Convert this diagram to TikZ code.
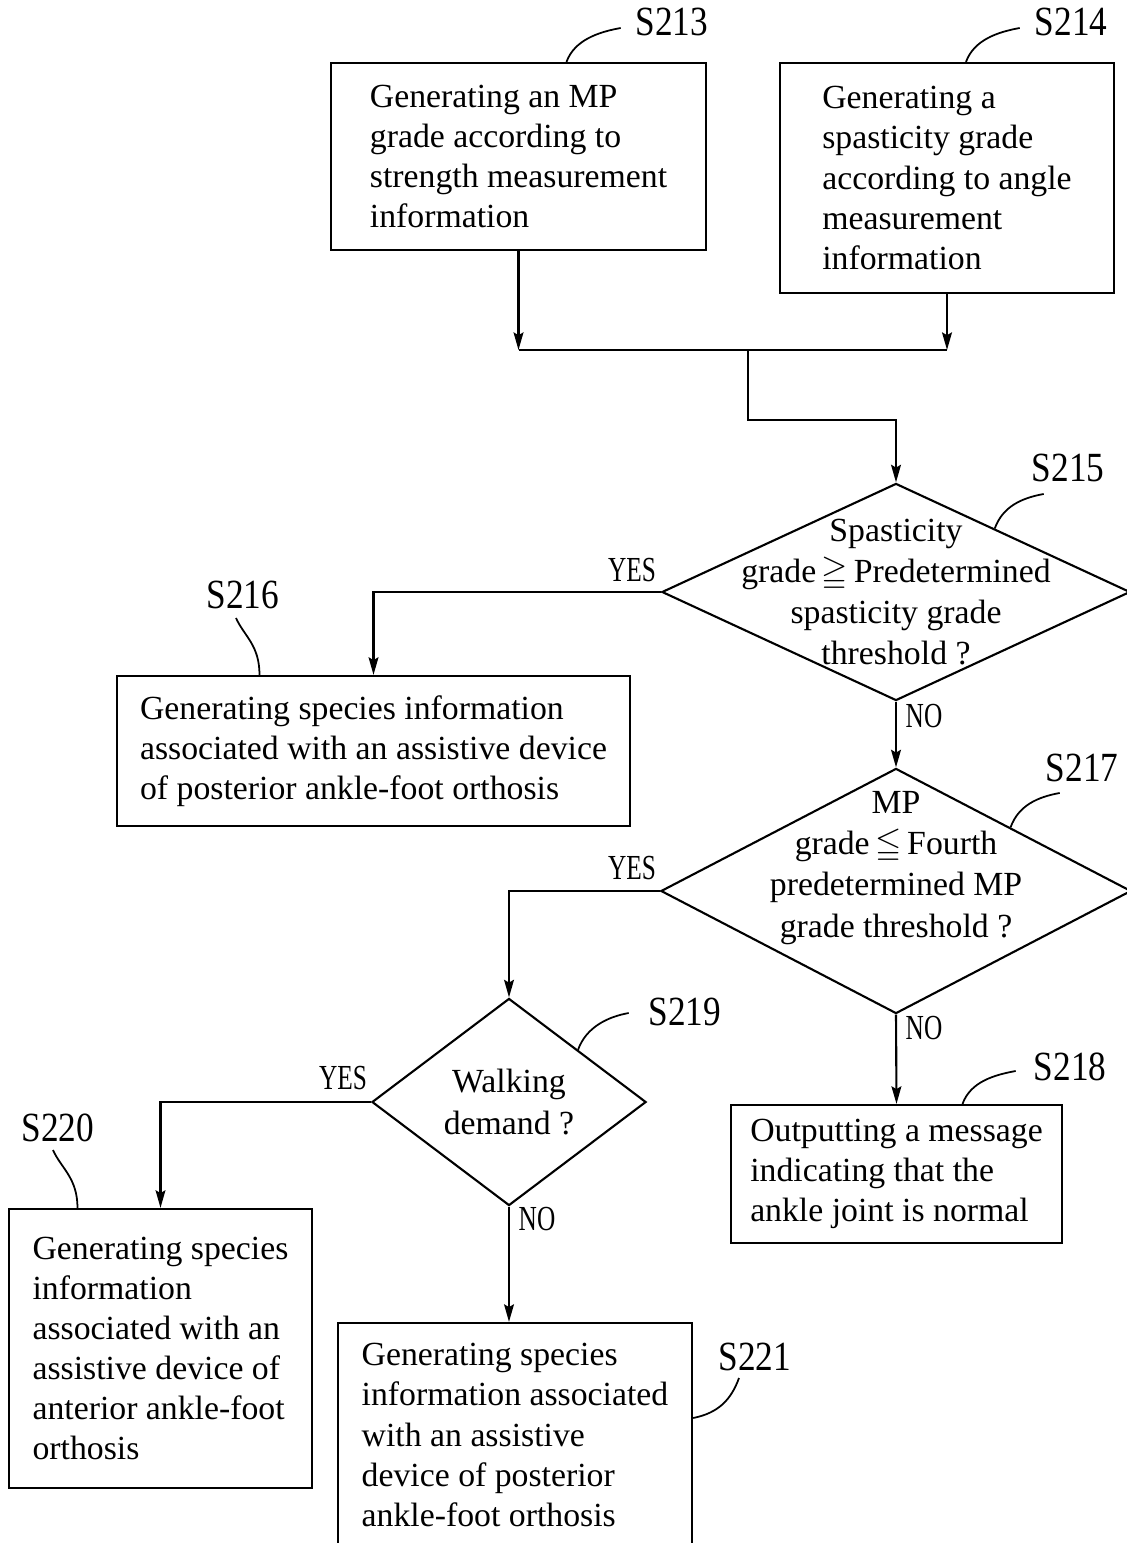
\documentclass[tikz,border=0pt]{standalone}
\usepackage{amssymb}
\usepackage{fontspec}
\setmainfont{Liberation Serif}
\newfontfamily\stepfont[FakeStretch=0.85]{Liberation Serif}
\newfontfamily\branchfont[FakeStretch=0.72]{Liberation Serif}
\usetikzlibrary{shapes.geometric, arrows.meta, calc}

\begin{document}
\begin{tikzpicture}[x=0.01cm, y=-0.01cm, line width=0.6pt,
  flow/.style={-{Stealth[length=5pt, width=2.8pt, inset=0.8pt]}},
  lead/.style={line width=0.5pt},
  stepbox/.style={draw, align=left, inner sep=0pt, font=\fontsize{9.6}{11.4}\selectfont},
  decision/.style={draw, diamond, inner sep=0pt},
  qtext/.style={align=center, inner sep=0pt, font=\fontsize{9.6}{11.7}\selectfont},
  steplabel/.style={inner sep=0pt, font=\stepfont\fontsize{11.8}{12}\selectfont},
  branch/.style={inner sep=0pt, font=\branchfont\fontsize{10}{10}\selectfont}]

  \useasboundingbox (0,0) rectangle (1126,1543);

  % --- measurement steps ---
  \node[stepbox, minimum width=3.75cm, minimum height=1.87cm] (s213) at (518.5,156.5)
    {Generating an MP\\grade according to\\strength measurement\\information};
  \node[stepbox, minimum width=3.33cm, minimum height=2.30cm] (s214) at (947,178)
    {Generating a\\spasticity grade\\according to angle\\measurement\\information};
  \node[steplabel] (l213) at (672,22) {S213};
  \node[steplabel] (l214) at (1071,22) {S214};

  \coordinate (join) at (748,350);
  \coordinate (turn) at (748,420);

  % --- spasticity check ---
  \node[decision, minimum width=4.68cm, minimum height=2.17cm,
    label={[qtext]center:{Spasticity\\grade\,$\geqq$\,Predetermined\\spasticity grade\\threshold ?}}] (d215) at (896,592) {};
  \node[steplabel] (l215) at (1068,468) {S215};
  \node[stepbox, minimum width=5.13cm, minimum height=1.50cm] (s216) at (373.5,751)
    {Generating species information\\associated with an assistive device\\of posterior ankle-foot orthosis};
  \node[steplabel] (l216) at (243,595) {S216};

  % --- MP check ---
  \node[decision, minimum width=4.70cm, minimum height=2.45cm,
    label={[qtext, yshift=0.23cm]center:{MP\\grade\,$\leqq$\,Fourth\\predetermined MP\\grade threshold ?}}] (d217) at (896,891) {};
  \node[steplabel] (l217) at (1082,768) {S217};
  \node[stepbox, minimum width=3.31cm, minimum height=1.38cm] (s218) at (896.5,1174)
    {Outputting a message\\indicating that the\\ankle joint is normal};
  \node[steplabel] (l218) at (1070,1067) {S218};

  % --- walking demand ---
  \node[decision, minimum width=2.74cm, minimum height=2.07cm,
    label={[qtext]center:{Walking\\demand ?}}] (d219) at (509,1102) {};
  \node[steplabel] (l219) at (685,1012) {S219};
  \node[stepbox, minimum width=3.03cm, minimum height=2.79cm] (s220) at (160.5,1348.5)
    {Generating species\\information\\associated with an\\assistive device of\\anterior ankle-foot\\orthosis};
  \node[steplabel] (l220) at (58,1128) {S220};
  \node[stepbox, minimum width=3.54cm, minimum height=2.24cm] (s221) at (515,1435)
    {Generating species\\information associated\\with an assistive\\device of posterior\\ankle-foot orthosis};
  \node[steplabel] (l221) at (755,1357) {S221};

  % --- branch labels ---
  \node[branch] (y215) at (632,570) {YES};
  \node[branch] (n215) at (924,716) {NO};
  \node[branch] (y217) at (632,868) {YES};
  \node[branch] (n217) at (924,1028) {NO};
  \node[branch] (y219) at (343,1078) {YES};
  \node[branch] (n219) at (537,1219) {NO};

  % connectors
  \draw[flow] (s213.south) -- (s213.south |- join);
  \draw[flow] (s214.south) -- (s214.south |- join);
  \draw (s213.south |- join) -- (s214.south |- join);
  \draw[flow] (join) -- (turn) -| (d215.north);
  \draw[flow] (d215.west) -| (s216.north);
  \draw[flow] (d215.south) -- (d217.north);
  \draw[flow] (d217.west) -| (d219.north);
  \draw[flow] (d217.south) -- (s218.north);
  \draw[flow] (d219.west) -| (s220.north);
  \draw[flow] (d219.south) -- (d219.south |- s221.north);

  % leaders to step numbers
  \draw[lead] ($(s213.north)+(48,0)$) .. controls +(8,-22) and +(-22,4) .. ($(l213.west)+(-14,6)$);
  \draw[lead] ($(s214.north)+(19,0)$) .. controls +(8,-22) and +(-22,4) .. ($(l214.west)+(-14,6)$);
  \draw[lead] ($(d215.north)!0.42!(d215.east)$) .. controls +(8,-22) and +(-22,4) .. ($(l215.south west)+(13,11)$);
  \draw[lead] ($(d217.north)!0.485!(d217.east)$) .. controls +(8,-22) and +(-22,4) .. ($(l217.south west)+(15,10)$);
  \draw[lead] ($(s218.north)+(66,0)$) .. controls +(8,-22) and +(-22,4) .. ($(l218.west)+(-17,4)$);
  \draw[lead] ($(d219.north)!0.5!(d219.east)$) .. controls +(8,-22) and +(-22,4) .. ($(l219.west)+(-19,1)$);
  \draw[lead] ($(s216.north)+(-114,0)$) .. controls +(0,-30) and +(8,18) .. ($(l216.south)+(-7,8)$);
  \draw[lead] ($(s220.north)+(-83,0)$) .. controls +(0,-30) and +(8,18) .. ($(l220.south)+(-5,7)$);
  \draw[lead] ($(s221.east)+(0,-17)$) .. controls +(25,-5) and +(-8,22) .. ($(l221.south)+(-16,6)$);

\end{tikzpicture}
\end{document}
